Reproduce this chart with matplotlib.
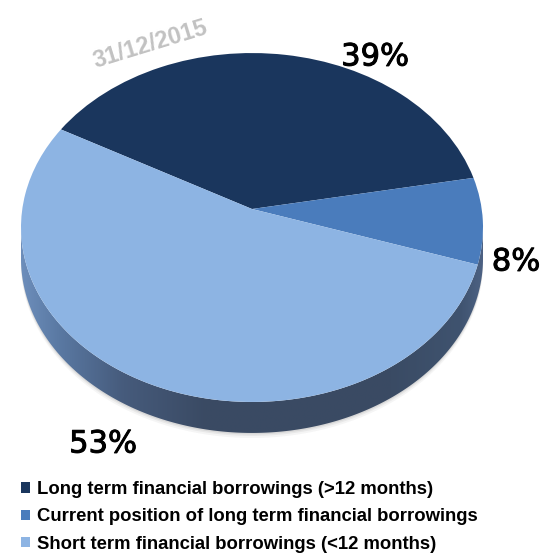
import numpy as np
import matplotlib
matplotlib.use("Agg")
import matplotlib.pyplot as plt
import matplotlib.transforms as mtransforms
import matplotlib.patheffects as pe
from matplotlib.patches import Polygon
from matplotlib.colors import LinearSegmentedColormap

# ==========
labels = ['Long term financial borrowings (>12 months)',
          'Current position of long term financial borrowings',
          'Short term financial borrowings (<12 months)']
shares = [39, 8, 53]
pct_text = ['39%', '8%', '53%']
colors = ['#1a365d', '#4a7cbc', '#8db4e3']
# ==========


class Perspektiva(mtransforms.Transform):
    """jednotkovy kruh -> naklonena elipsa (pixely), vzdalena strana stlacena"""
    input_dims = 2
    output_dims = 2

    def __init__(self, cx, cy, s, c, k, dy=0.0):
        super().__init__()
        self.cx, self.cy, self.s, self.c, self.k, self.dy = cx, cy, s, c, k, dy

    def transform_non_affine(self, xy):
        xy = np.asarray(xy, dtype=float).reshape(-1, 2)
        u, v = xy[:, 0], xy[:, 1]
        w = 1 + self.k * v
        return np.column_stack([self.cx + self.s * u / w,
                                self.cy + self.dy - self.c * v / w])


fig = plt.figure(figsize=(5.46, 5.6), dpi=100)
ax = fig.add_axes([0, 0, 1, 1])

persp = Perspektiva(252, 209, 229.7, 172.5, 0.106)
depth = 31

# bocni stena (valec) - obrys
t = np.linspace(0, 2 * np.pi, 721)
pts = persp.transform(np.column_stack([np.cos(t), np.sin(t)]))
iL = np.argmin(pts[:, 0])
iR = np.argmax(pts[:, 0])
# dolni oblouk od leveho kraje pres spodek k pravemu
idx = np.arange(iL, iR + 1) if iL < iR else np.r_[np.arange(iL, len(t)), np.arange(0, iR + 1)]
low = pts[idx]
side = np.vstack([low + [0, depth], low[::-1]])

# jemny stin pod stenou
for off, a in [(5, 0.05), (3, 0.07), (1.5, 0.09)]:
    ax.add_patch(Polygon(side + [0, off], closed=True, fc='#404040', ec='none', alpha=a, zorder=1))

side_patch = Polygon(side, closed=True, fc='none', ec='none', zorder=2)
ax.add_patch(side_patch)
grad_cmap = LinearSegmentedColormap.from_list(
    'stena', [(0.0, '#6d8ebb'), (0.08, '#5a79a3'), (0.22, '#465b7c'),
              (0.4, '#3a4a63'), (0.8, '#3a4b64'), (0.95, '#3f536f'), (1.0, '#4d6284')])
grad = np.linspace(0, 1, 256).reshape(1, -1)
im = ax.imshow(grad, cmap=grad_cmap, extent=(pts[:, 0].min(), pts[:, 0].max(), 460, 150),
               aspect='auto', zorder=2, interpolation='bilinear')
im.set_clip_path(side_patch)

# horni plocha kolace
wedges, _ = ax.pie(shares, colors=colors, startangle=151, counterclock=False,
                   wedgeprops=dict(linewidth=0))
for w in wedges:
    w.set_transform(persp + ax.transData)
    w.set_zorder(3)

ax.set_xlim(0, 546)
ax.set_ylim(560, 0)
ax.set_aspect('auto')
ax.axis('off')

# popisky procent
tucne = [pe.withStroke(linewidth=0.7, foreground='black')]
ax.text(375, 57, pct_text[0], fontsize=22, ha='center', va='center', color='black',
        zorder=5, path_effects=tucne)
ax.text(516, 262, pct_text[1], fontsize=22, ha='center', va='center', color='black',
        zorder=5, path_effects=tucne)
ax.text(103, 444, pct_text[2], fontsize=22, ha='center', va='center', color='black',
        zorder=5, path_effects=tucne)

# datum
ax.text(150, 44, '31/12/2015', fontsize=17, fontweight='bold', color='#c2c2c2',
        family='Liberation Sans', rotation=17, ha='center', va='center', zorder=5)

leg = ax.legend(wedges, labels, loc='upper left', bbox_to_anchor=(21 / 546, 1 - 481 / 560),
                frameon=False, handlelength=0.5, handleheight=0.5, handletextpad=0.36,
                labelspacing=0.56, borderpad=0, borderaxespad=0,
                prop={'family': 'Liberation Sans', 'weight': 'bold', 'size': 13.3})

fig.savefig('out.png', dpi=100, facecolor='white')
